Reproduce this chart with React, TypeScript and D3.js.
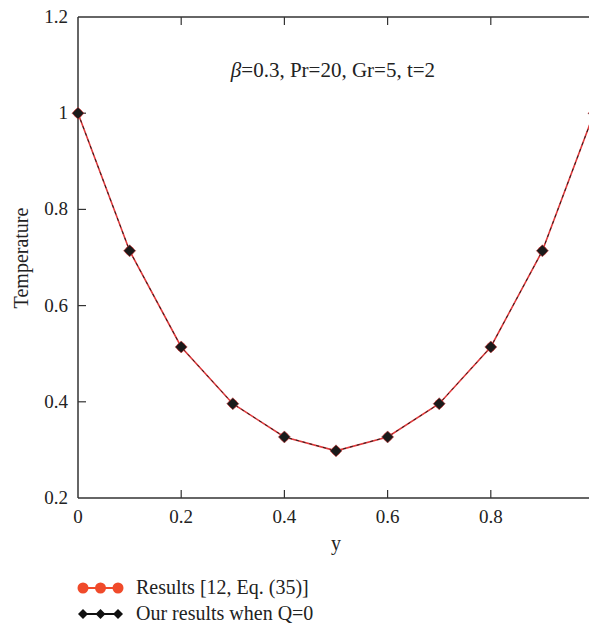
import React from "react";
import * as d3 from "d3";

const xs = [0, 0.1, 0.2, 0.3, 0.4, 0.5, 0.6, 0.7, 0.8, 0.9, 1.0];
const refValues = [1.0, 0.714, 0.514, 0.396, 0.327, 0.298, 0.327, 0.396, 0.514, 0.714, 1.0];
const ourValues = [1.0, 0.714, 0.514, 0.396, 0.327, 0.298, 0.327, 0.396, 0.514, 0.714, 1.0];
const xTicks = [0, 0.2, 0.4, 0.6, 0.8];
const yTicks = [0.2, 0.4, 0.6, 0.8, 1, 1.2];
const legendLabels = ["Results [12, Eq. (35)]", "Our results when Q=0"];

const W = 589, H = 630;
const FONT = "'Liberation Serif', 'Times New Roman', serif";

export default function App() {
  const x = d3.scaleLinear().domain([0, 1]).range([78, 594]);
  const y = d3.scaleLinear().domain([0.2, 1.2]).range([498, 17]);
  const line = d3.line<number>().x((_, i) => x(xs[i])).y((d) => y(d));
  const fmt = (v: number) => (v === 0 ? "0" : d3.format("~g")(v));
  const diamond = (cx: number, cy: number, r: number) =>
    `M${cx},${cy - r}L${cx + r},${cy}L${cx},${cy + r}L${cx - r},${cy}Z`;
  return (
    <div style={{ position: "absolute", left: 0, top: 0 }}>
      <svg width={W} height={H} style={{ display: "block", fontFamily: FONT }}>
        <rect width={W} height={H} fill="#fff" />
        <line x1={x(0)} x2={W} y1={y(1.2)} y2={y(1.2)} stroke="#333" strokeWidth={1.5} />
        <line x1={x(0)} x2={W} y1={y(0.2)} y2={y(0.2)} stroke="#333" strokeWidth={1.5} />
        <line x1={x(0)} x2={x(0)} y1={y(1.2)} y2={y(0.2)} stroke="#333" strokeWidth={1.5} />
        {xTicks.map((t) => (
          <g key={"xt" + t}>
            {t > 0 && <line x1={x(t)} x2={x(t)} y1={y(0.2)} y2={y(0.2) - 8} stroke="#333" strokeWidth={1.2} />}
            {t > 0 && <line x1={x(t)} x2={x(t)} y1={y(1.2)} y2={y(1.2) + 8} stroke="#333" strokeWidth={1.2} />}
            <text x={x(t)} y={y(0.2) + 25} textAnchor="middle" fontSize={19} fill="#222">{fmt(t)}</text>
          </g>
        ))}
        {yTicks.map((t) => (
          <g key={"yt" + t}>
            {t > 0.2 && t < 1.2 && <line x1={x(0)} x2={x(0) + 8} y1={y(t)} y2={y(t)} stroke="#333" strokeWidth={1.2} />}
            <text x={x(0) - 10} y={y(t) + 6} textAnchor="end" fontSize={19} fill="#222">{fmt(t)}</text>
          </g>
        ))}
        <text x={336} y={550} textAnchor="middle" fontSize={20} fill="#222">y</text>
        <text transform={`translate(28,258) rotate(-90)`} textAnchor="middle" fontSize={20} fill="#222">Temperature</text>
        <text x={333} y={77} textAnchor="middle" fontSize={21} fill="#222">
          <tspan fontStyle="italic">β</tspan>=0.3, Pr=20, Gr=5, t=2
        </text>
        <path d={line(refValues) || ""} fill="none" stroke="#e0393b" strokeWidth={1.6} />
        <path d={line(ourValues) || ""} fill="none" stroke="#222" strokeWidth={1} strokeDasharray="3,4" />
        {refValues.map((v, i) => (
          <circle key={"rc" + i} cx={x(xs[i])} cy={y(v)} r={4.5} fill="#e0393b" />
        ))}
        {ourValues.map((v, i) => (
          <path key={"od" + i} d={diamond(x(xs[i]), y(v), 6)} fill="#1a1a1a" stroke="#d04040" strokeWidth={0.6} />
        ))}
        <line x1={83} x2={118} y1={588} y2={588} stroke="#f04a2a" strokeWidth={2} />
        {[83, 100.5, 118].map((cx) => (
          <circle key={"lc" + cx} cx={cx} cy={588} r={5.5} fill="#f04a2a" />
        ))}
        <text x={136} y={594} fontSize={20} fill="#222">{legendLabels[0]}</text>
        <line x1={83} x2={118} y1={614} y2={614} stroke="#111" strokeWidth={2} />
        {[83, 100.5, 118].map((cx) => (
          <path key={"ld" + cx} d={diamond(cx, 614, 5)} fill="#111" />
        ))}
        <text x={136} y={620} fontSize={20} fill="#222">{legendLabels[1]}</text>
      </svg>
    </div>
  );
}
